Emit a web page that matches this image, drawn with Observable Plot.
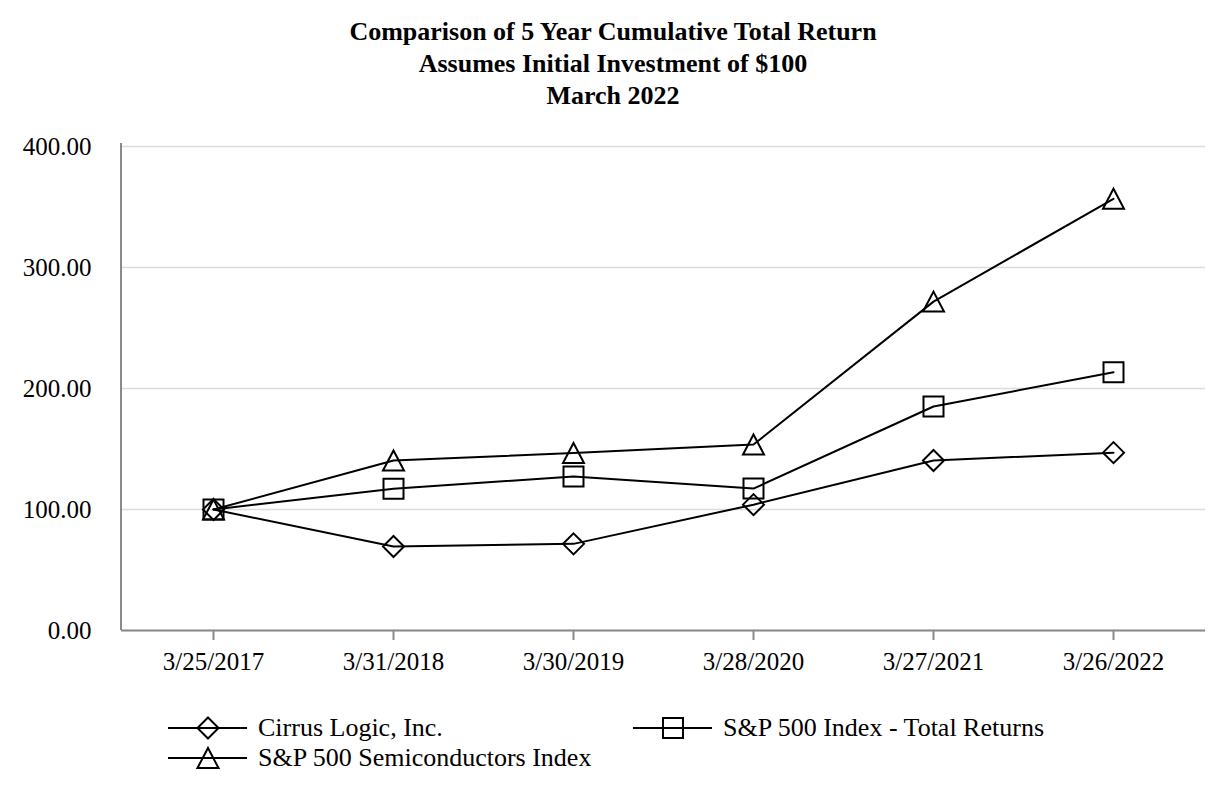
<!DOCTYPE html>
<html>
<head>
<meta charset="utf-8">
<script src="https://cdn.jsdelivr.net/npm/d3@7"></script>
<script src="https://cdn.jsdelivr.net/npm/@observablehq/plot@0.6"></script>
<style>
  html, body { margin: 0; padding: 0; background: #fff; }
  #wrap { width: 1226px; font-family: "Liberation Serif", "Times New Roman", serif; color: #000; }
  #title { text-align: center; font-weight: bold; font-size: 26px; line-height: 32px; padding-top: 16px; height: 96px; }
  #legend { position: relative; height: 90px; font-size: 26px; }
  .item { position: absolute; display: flex; align-items: center; height: 30px; white-space: nowrap; }
  .item svg { display: block; margin-right: 11px; }
</style>
</head>
<body>
<div id="wrap">
  <div id="title">Comparison of 5 Year Cumulative Total Return<br>Assumes Initial Investment of $100<br>March 2022</div>
  <div id="chart"></div>
  <div id="legend"></div>
</div>
<script>
const dates = ["3/25/2017", "3/31/2018", "3/30/2019", "3/28/2020", "3/27/2021", "3/26/2022"];
const seriesNames = ["Cirrus Logic, Inc.", "S&P 500 Index - Total Returns", "S&P 500 Semiconductors Index"];
const cirrus = [100.00, 69.40, 71.60, 104.00, 140.50, 147.00];
const sp500 = [100.00, 117.10, 127.30, 117.30, 185.10, 213.40];
const semis = [100.00, 140.50, 146.70, 153.70, 271.80, 356.80];
const yTicks = [0, 100, 200, 300, 400];

const seriesValues = [cirrus, sp500, semis];
const data = [];
seriesNames.forEach((s, i) => dates.forEach((d, j) => data.push({series: s, date: d, value: seriesValues[i][j]})));

const diamond = {draw(ctx) { const r = 10.5; ctx.moveTo(0, -r); ctx.lineTo(r, 0); ctx.lineTo(0, r); ctx.lineTo(-r, 0); ctx.closePath(); }};
const square = {draw(ctx) { const r = 10; ctx.moveTo(-r, -r); ctx.lineTo(r, -r); ctx.lineTo(r, r); ctx.lineTo(-r, r); ctx.closePath(); }};
const triangle = {draw(ctx) { ctx.moveTo(0, -10); ctx.lineTo(10.5, 10); ctx.lineTo(-10.5, 10); ctx.closePath(); }};
const symbols = [diamond, square, triangle];

const axisGray = "#8a8a8a";

const leftAxisLine = (index, scales, values, dimensions) => {
  const {marginLeft, marginTop, height, marginBottom} = dimensions;
  const g = d3.create("svg:g");
  g.append("line")
    .attr("x1", marginLeft).attr("x2", marginLeft)
    .attr("y1", marginTop - 3).attr("y2", height - marginBottom)
    .attr("stroke", axisGray).attr("stroke-width", 2);
  return g.node();
};

const chart = Plot.plot({
  width: 1226,
  height: 590,
  marginLeft: 121,
  marginRight: 21,
  marginTop: 34,
  marginBottom: 72,
  style: {fontFamily: '"Liberation Serif", "Times New Roman", serif', fontSize: "25px", color: "#000", background: "#fff", overflow: "visible"},
  x: {type: "point", domain: dates, padding: 0.5, axis: null},
  y: {domain: [0, 400], axis: null},
  symbol: {domain: seriesNames, range: symbols},
  marks: [
    Plot.gridY(yTicks, {stroke: "#dcdcdc", strokeOpacity: 1, strokeWidth: 1.5}),
    Plot.axisY(yTicks, {tickSize: 0, tickPadding: 30, tickFormat: d => d.toFixed(2), fill: "#000", fontSize: 25, label: null}),
    Plot.axisX(dates, {tickSize: 10, tickPadding: 12, stroke: axisGray, strokeWidth: 2, fill: "#000", fontSize: 25, label: null}),
    Plot.ruleY([0], {stroke: axisGray, strokeWidth: 2}),
    leftAxisLine,
    Plot.line(data, {x: "date", y: "value", z: "series", stroke: "#000", strokeWidth: 2}),
    Plot.dot(data, {x: "date", y: "value", symbol: "series", r: 10, fill: "none", stroke: "#000", strokeWidth: 2})
  ]
});
document.getElementById("chart").appendChild(chart);

// Legend
const legend = d3.select("#legend");
const legendPos = [{left: 168, top: 11}, {left: 633, top: 11}, {left: 168, top: 41}];
seriesNames.forEach((name, i) => {
  const item = legend.append("div").attr("class", "item")
    .style("left", legendPos[i].left + "px").style("top", legendPos[i].top + "px");
  const svg = item.append("svg").attr("width", 79).attr("height", 30);
  svg.append("line").attr("x1", 0).attr("x2", 79).attr("y1", 15).attr("y2", 15)
    .attr("stroke", "#000").attr("stroke-width", 2);
  svg.append("path").attr("transform", "translate(40,15)")
    .attr("d", d3.symbol(symbols[i])())
    .attr("fill", "none").attr("stroke", "#000").attr("stroke-width", 2);
  item.append("span").text(name);
});
</script>
</body>
</html>
